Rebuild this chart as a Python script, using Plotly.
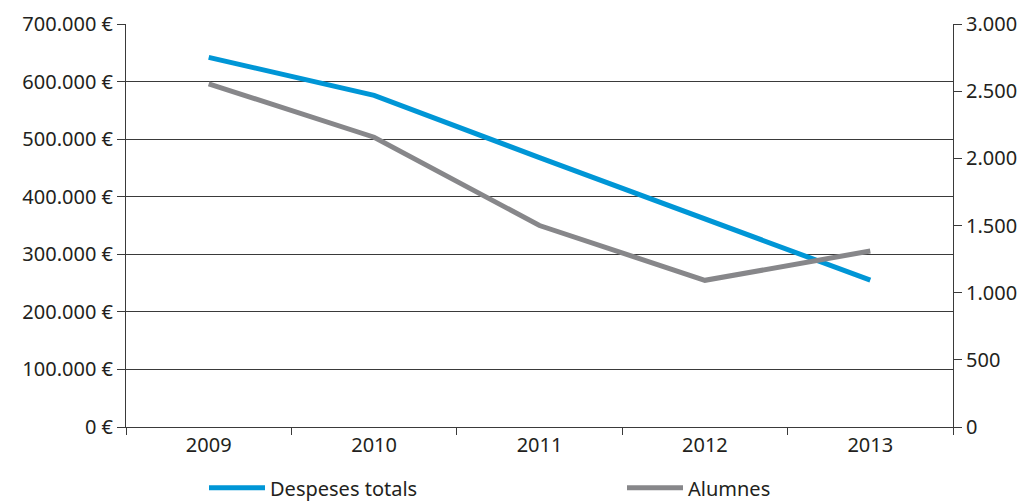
import plotly.graph_objects as go

years = ["2009", "2010", "2011", "2012", "2013"]
despeses = [642000, 576000, 468000, 362000, 255000]
alumnes = [2555, 2157, 1500, 1092, 1310]

left_ticks = [0, 100000, 200000, 300000, 400000, 500000, 600000, 700000]
left_labels = ["0 €", "100.000 €", "200.000 €", "300.000 €", "400.000 €",
               "500.000 €", "600.000 €", "700.000 €"]
right_ticks = [0, 500, 1000, 1500, 2000, 2500, 3000]
right_labels = ["0", "500", "1.000", "1.500", "2.000", "2.500", "3.000"]

txt = "#231f20"
fnt = dict(family="Noto Sans, sans-serif", size=20, color=txt)

fig = go.Figure()
fig.add_trace(go.Scatter(x=years, y=despeses, mode="lines", name="Despeses totals",
                         line=dict(color="#0096d6", width=5), yaxis="y",
                         legend="legend"))
fig.add_trace(go.Scatter(x=years, y=alumnes, mode="lines", name="Alumnes",
                         line=dict(color="#87878a", width=5), yaxis="y2",
                         legend="legend2"))

leg_common = dict(orientation="h", yanchor="middle", xanchor="left", y=-0.151,
                  font=fnt, bgcolor="rgba(0,0,0,0)", itemwidth=56)

# page has an 8px body margin, so the figure is drawn from (8, 8)
fig.update_layout(
    width=1023, height=493,
    margin=dict(l=118, r=78, t=16, b=74, autoexpand=False),
    paper_bgcolor="white", plot_bgcolor="white",
    font=fnt,
    showlegend=True,
    legend=dict(x=(204 - 126) / 827, **leg_common),
    legend2=dict(x=(622 - 126) / 827, **leg_common),
    xaxis=dict(type="category", range=[-0.5, 4.5], tickson="boundaries",
               ticks="outside", ticklen=7, tickcolor="#3a3a3a",
               showline=True, linecolor="#3a3a3a", linewidth=1,
               showgrid=False, tickfont=fnt, automargin=False),
    yaxis=dict(range=[0, 700000], tickvals=left_ticks, ticktext=left_labels,
               ticks="outside", ticklen=8, tickcolor="#3a3a3a",
               showline=True, linecolor="#3a3a3a", linewidth=1,
               showgrid=True, gridcolor="#3a3a3a", gridwidth=1,
               zeroline=False, tickfont=fnt, automargin=False),
    yaxis2=dict(range=[0, 3000], tickvals=right_ticks, ticktext=right_labels,
                overlaying="y", side="right",
                ticks="outside", ticklen=8, tickcolor="#3a3a3a",
                showline=True, linecolor="#3a3a3a", linewidth=1,
                showgrid=False, zeroline=False, tickfont=fnt, automargin=False),
)

fig.write_html("out.html")
